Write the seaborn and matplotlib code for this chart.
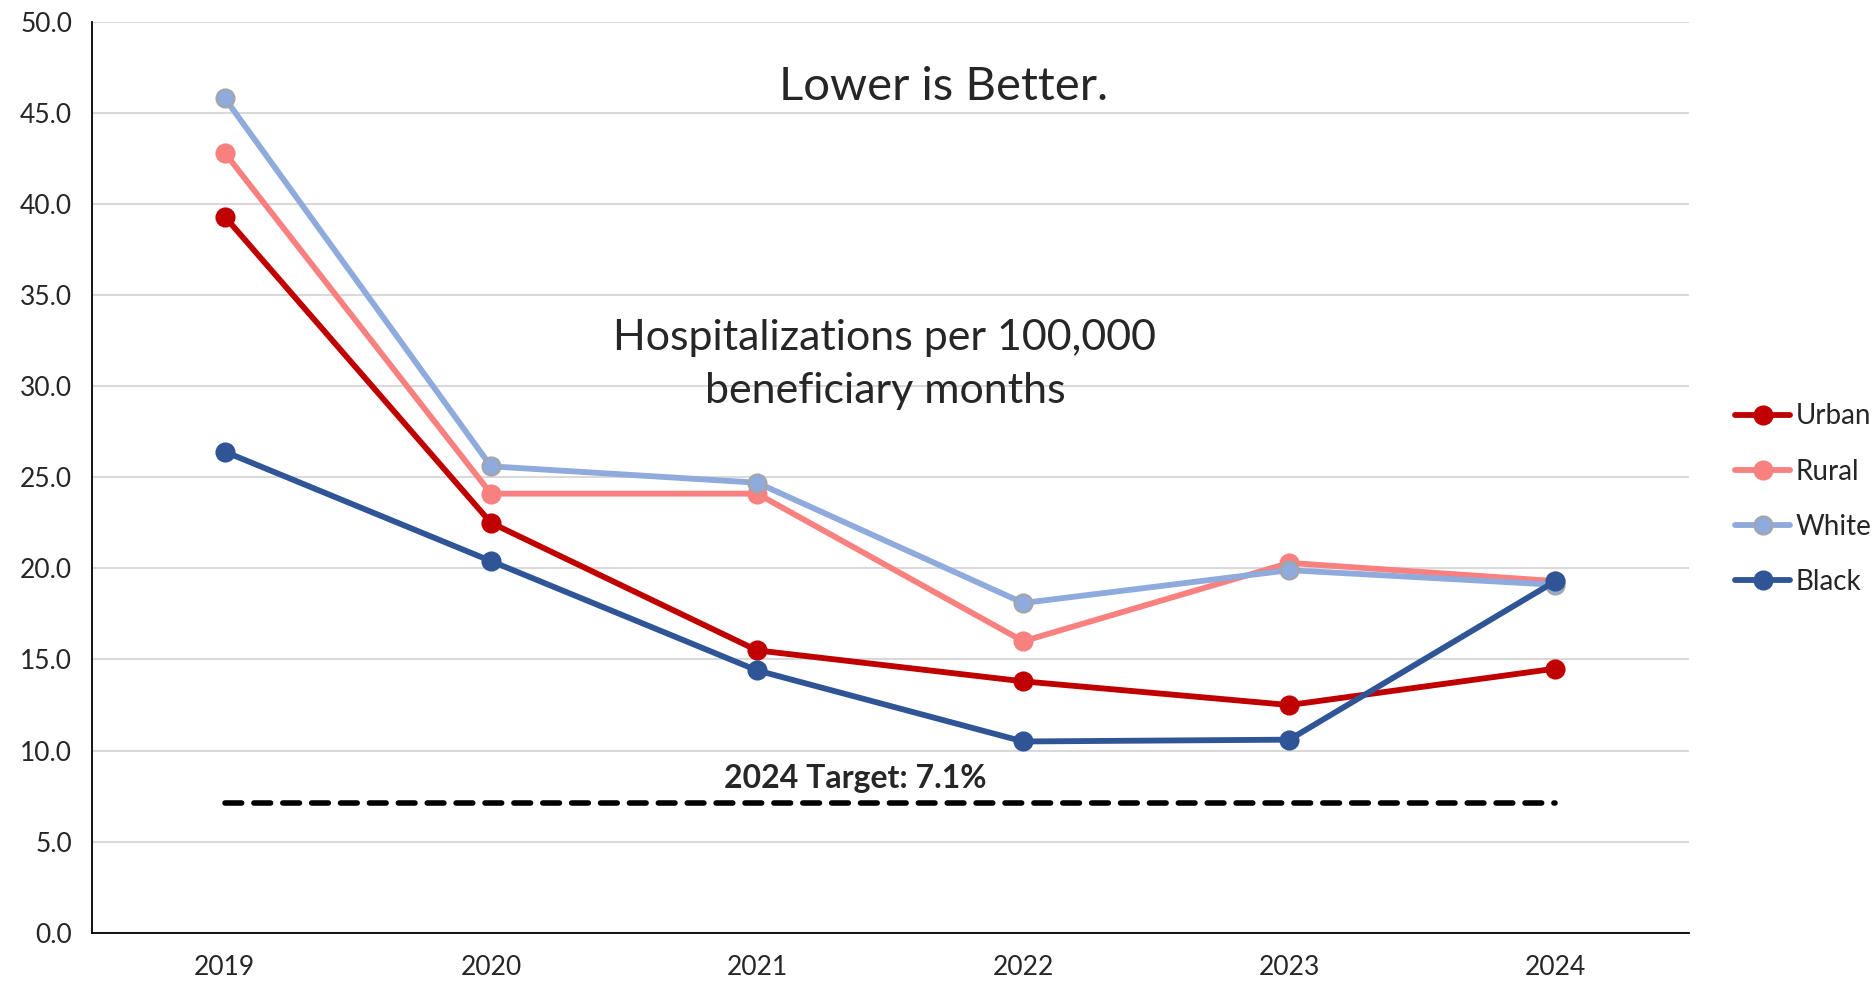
import matplotlib
matplotlib.use("Agg")
import matplotlib.pyplot as plt
from matplotlib.ticker import FixedLocator, FormatStrFormatter
import seaborn as sns
import pandas as pd

years = [2019, 2020, 2021, 2022, 2023, 2024]
urban = [39.3, 22.5, 15.5, 13.8, 12.5, 14.5]
rural = [42.8, 24.1, 24.1, 16.0, 20.3, 19.3]
white = [45.8, 25.6, 24.7, 18.1, 19.9, 19.1]
black = [26.4, 20.4, 14.4, 10.5, 10.6, 19.3]
target = 7.1

groups = ["Urban", "Rural", "White", "Black"]
colors = {"Urban": "#C00000", "Rural": "#F8807F", "White": "#8FAADC", "Black": "#2F5597"}
edges = {"Urban": "#C00000", "Rural": "#F8807F", "White": "#A5A5A5", "Black": "#2F5597"}

df = pd.DataFrame({"Year": years * 4,
                   "Value": urban + rural + white + black,
                   "Group": [g for g in groups for _ in years]})

sns.set_style("white")
plt.rcParams["font.family"] = ["Lato", "DejaVu Sans"]

fig, ax = plt.subplots(figsize=(18.72, 9.84), dpi=100)
fig.subplots_adjust(left=0.049, right=0.902, top=0.978, bottom=0.052)

# target line
sns.lineplot(x=[years[0], years[-1]], y=[target, target], ax=ax, color="black",
             linewidth=4, linestyle=(0, (3, 2.2)), dash_capstyle="round", legend=False)

for g in groups:
    sub = df[df["Group"] == g]
    sns.lineplot(data=sub, x="Year", y="Value", ax=ax, color=colors[g], linewidth=4.2,
                 marker="o", markersize=13, markeredgecolor=edges[g], markeredgewidth=1.5,
                 label=g)

ax.set_xlim(2018.5, 2024.5)
ax.set_ylim(0, 50)
ax.set_xticks(years)
ax.set_xticklabels([str(y) for y in years])
ax.xaxis.set_minor_locator(FixedLocator([y + 0.5 for y in range(2018, 2025)]))
ax.tick_params(axis="x", which="major", length=0, labelsize=19, pad=16)
ax.tick_params(axis="x", which="minor", length=8, width=1.2, direction="out", color="black")
ax.set_yticks([i * 5 for i in range(11)])
ax.yaxis.set_major_formatter(FormatStrFormatter("%.1f"))
ax.tick_params(axis="y", length=8, width=1.2, direction="out", labelsize=19, color="black", pad=6)
ax.grid(axis="y", color="#D9D9D9", linewidth=1.5)
ax.set_axisbelow(True)
for s in ["top", "right"]:
    ax.spines[s].set_visible(False)
for s in ["left", "bottom"]:
    ax.spines[s].set_color("black")
    ax.spines[s].set_linewidth(1.3)
ax.set_xlabel("")
ax.set_ylabel("")

ax.text(2021.7, 46.4, "Lower is Better.", fontsize=34, ha="center", va="center")
ax.text(2021.48, 31.2, "Hospitalizations per 100,000\nbeneficiary months", fontsize=31,
        ha="center", va="center", linespacing=1.5)
ax.text(2021.37, 8.45, "2024 Target: 7.1%", fontsize=23, fontweight="bold",
        ha="center", va="center")

ax.legend(loc="center left", bbox_to_anchor=(1.022, 0.476), frameon=False, fontsize=20,
          handlelength=2.0, handletextpad=0.2, labelspacing=1.05, borderaxespad=0)

fig.savefig("out.png", dpi=100)
